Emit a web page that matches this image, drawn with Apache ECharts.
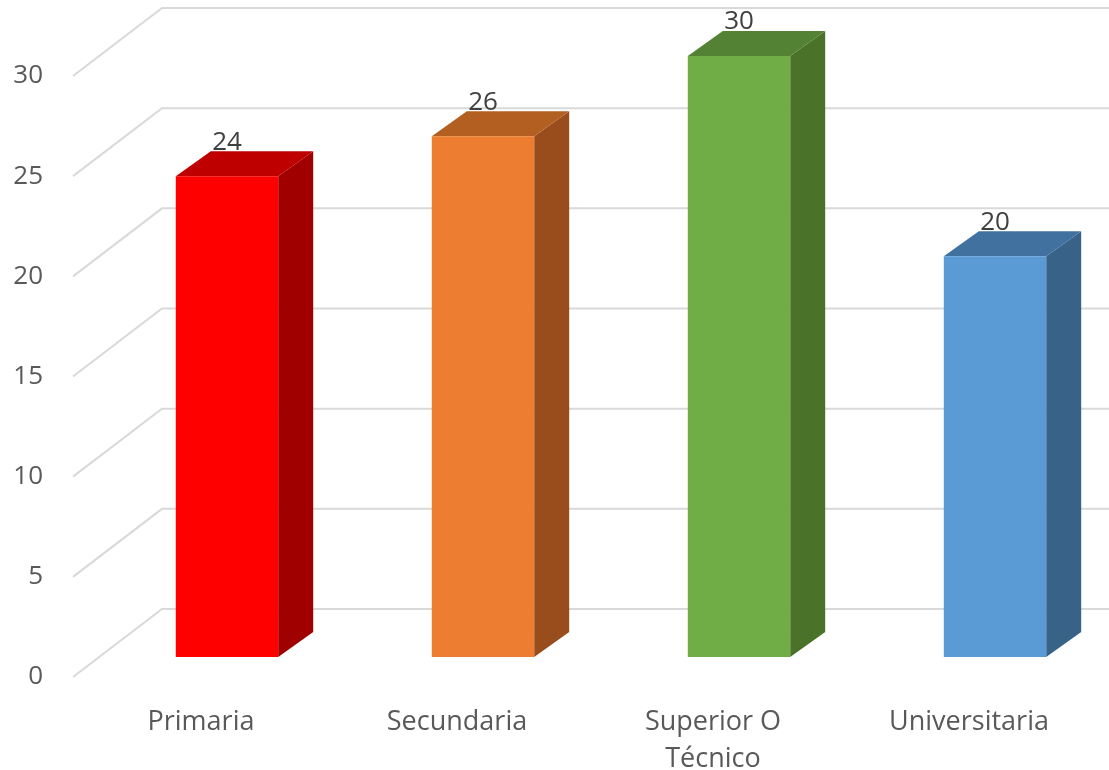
<!DOCTYPE html>
<html>
<head>
<meta charset="utf-8">
<script src="https://cdn.jsdelivr.net/npm/echarts@6/dist/echarts.min.js"></script>
<style>
  html, body { margin: 0; padding: 0; background: #ffffff; }
  #chart { width: 1109px; height: 770px; }
</style>
</head>
<body>
<div id="chart"></div>
<script>
// Education level counts
const categories = ['Primaria', 'Secundaria', 'Superior O\nTécnico', 'Universitaria'];
const values = [24, 26, 30, 20];
const yTicks = [0, 5, 10, 15, 20, 25, 30];

// Face colours of each 3D column: front, top, side
const frontColors = ['#FF0000', '#ED7D31', '#70AD47', '#5B9BD5'];
const topColors = ['#BF0000', '#B45F22', '#548235', '#41729F'];
const sideColors = ['#A00000', '#9A4D1C', '#4A7329', '#386288'];

// Oblique projection settings
const WALL_DX = 89, WALL_DY = -68;   // front edge -> back wall
const BAR_DX = 26, BAR_DY = -20;     // front edge -> column front face
const DEPTH_DX = 35, DEPTH_DY = -25; // column depth
const FONT = '"Open Sans", "Noto Sans", sans-serif';

const chart = echarts.init(document.getElementById('chart'));

chart.setOption({
  animation: false,
  backgroundColor: '#ffffff',
  grid: { left: 73, right: 12, top: 76, bottom: 93, containLabel: false, outerBoundsMode: 'none' },
  xAxis: {
    type: 'category',
    data: categories,
    axisLine: { show: false },
    axisTick: { show: false },
    splitLine: { show: false },
    axisLabel: {
      margin: 27,
      color: '#595959',
      fontFamily: FONT,
      fontSize: 27,
      lineHeight: 37,
      interval: 0
    }
  },
  yAxis: {
    type: 'value',
    min: 0,
    max: 30,
    interval: 5,
    axisLine: { show: false },
    axisTick: { show: false },
    splitLine: { show: false },
    axisLabel: {
      margin: 30,
      color: '#595959',
      fontFamily: FONT,
      fontSize: 26
    }
  },
  series: [
    {
      // floor/back-wall gridlines in oblique projection
      type: 'custom',
      silent: true,
      clip: false,
      z: 1,
      data: yTicks.map(v => [0, v]),
      encode: { x: 0, y: 1 },
      renderItem: function (params, api) {
        const left = params.coordSys.x;
        const y = api.coord([0, api.value(1)])[1];
        return {
          type: 'polyline',
          shape: {
            points: [
              [left, y],
              [left + WALL_DX, y + WALL_DY],
              [api.getWidth(), y + WALL_DY]
            ]
          },
          style: { stroke: '#D9D9D9', lineWidth: 2, fill: null }
        };
      }
    },
    {
      // 3D columns
      type: 'custom',
      clip: false,
      z: 2,
      data: values.map((v, i) => [i, v]),
      encode: { x: 0, y: 1 },
      renderItem: function (params, api) {
        const i = api.value(0);
        const v = api.value(1);
        const base = api.coord([i, 0]);
        const top = api.coord([i, v]);
        const band = api.size([1, 0])[0];
        const w = band * 0.4;
        const x0 = base[0] + BAR_DX - w / 2;
        const x1 = x0 + w;
        const yb = base[1] + BAR_DY;
        const yt = top[1] + BAR_DY;
        const idx = params.dataIndex;
        return {
          type: 'group',
          children: [
            {
              type: 'polygon',
              shape: { points: [[x1, yt], [x1 + DEPTH_DX, yt + DEPTH_DY], [x1 + DEPTH_DX, yb + DEPTH_DY], [x1, yb]] },
              style: { fill: sideColors[idx] }
            },
            {
              type: 'polygon',
              shape: { points: [[x0, yt], [x0 + DEPTH_DX, yt + DEPTH_DY], [x1 + DEPTH_DX, yt + DEPTH_DY], [x1, yt]] },
              style: { fill: topColors[idx] }
            },
            {
              type: 'rect',
              shape: { x: x0, y: yt, width: w, height: yb - yt },
              style: { fill: frontColors[idx] }
            },
            {
              type: 'text',
              z2: 10,
              style: {
                text: String(v),
                x: (x0 + x1) / 2,
                y: yt + DEPTH_DY + 4,
                align: 'center',
                verticalAlign: 'bottom',
                fill: '#404040',
                font: '26px ' + FONT
              }
            }
          ]
        };
      }
    }
  ]
});
</script>
</body>
</html>
